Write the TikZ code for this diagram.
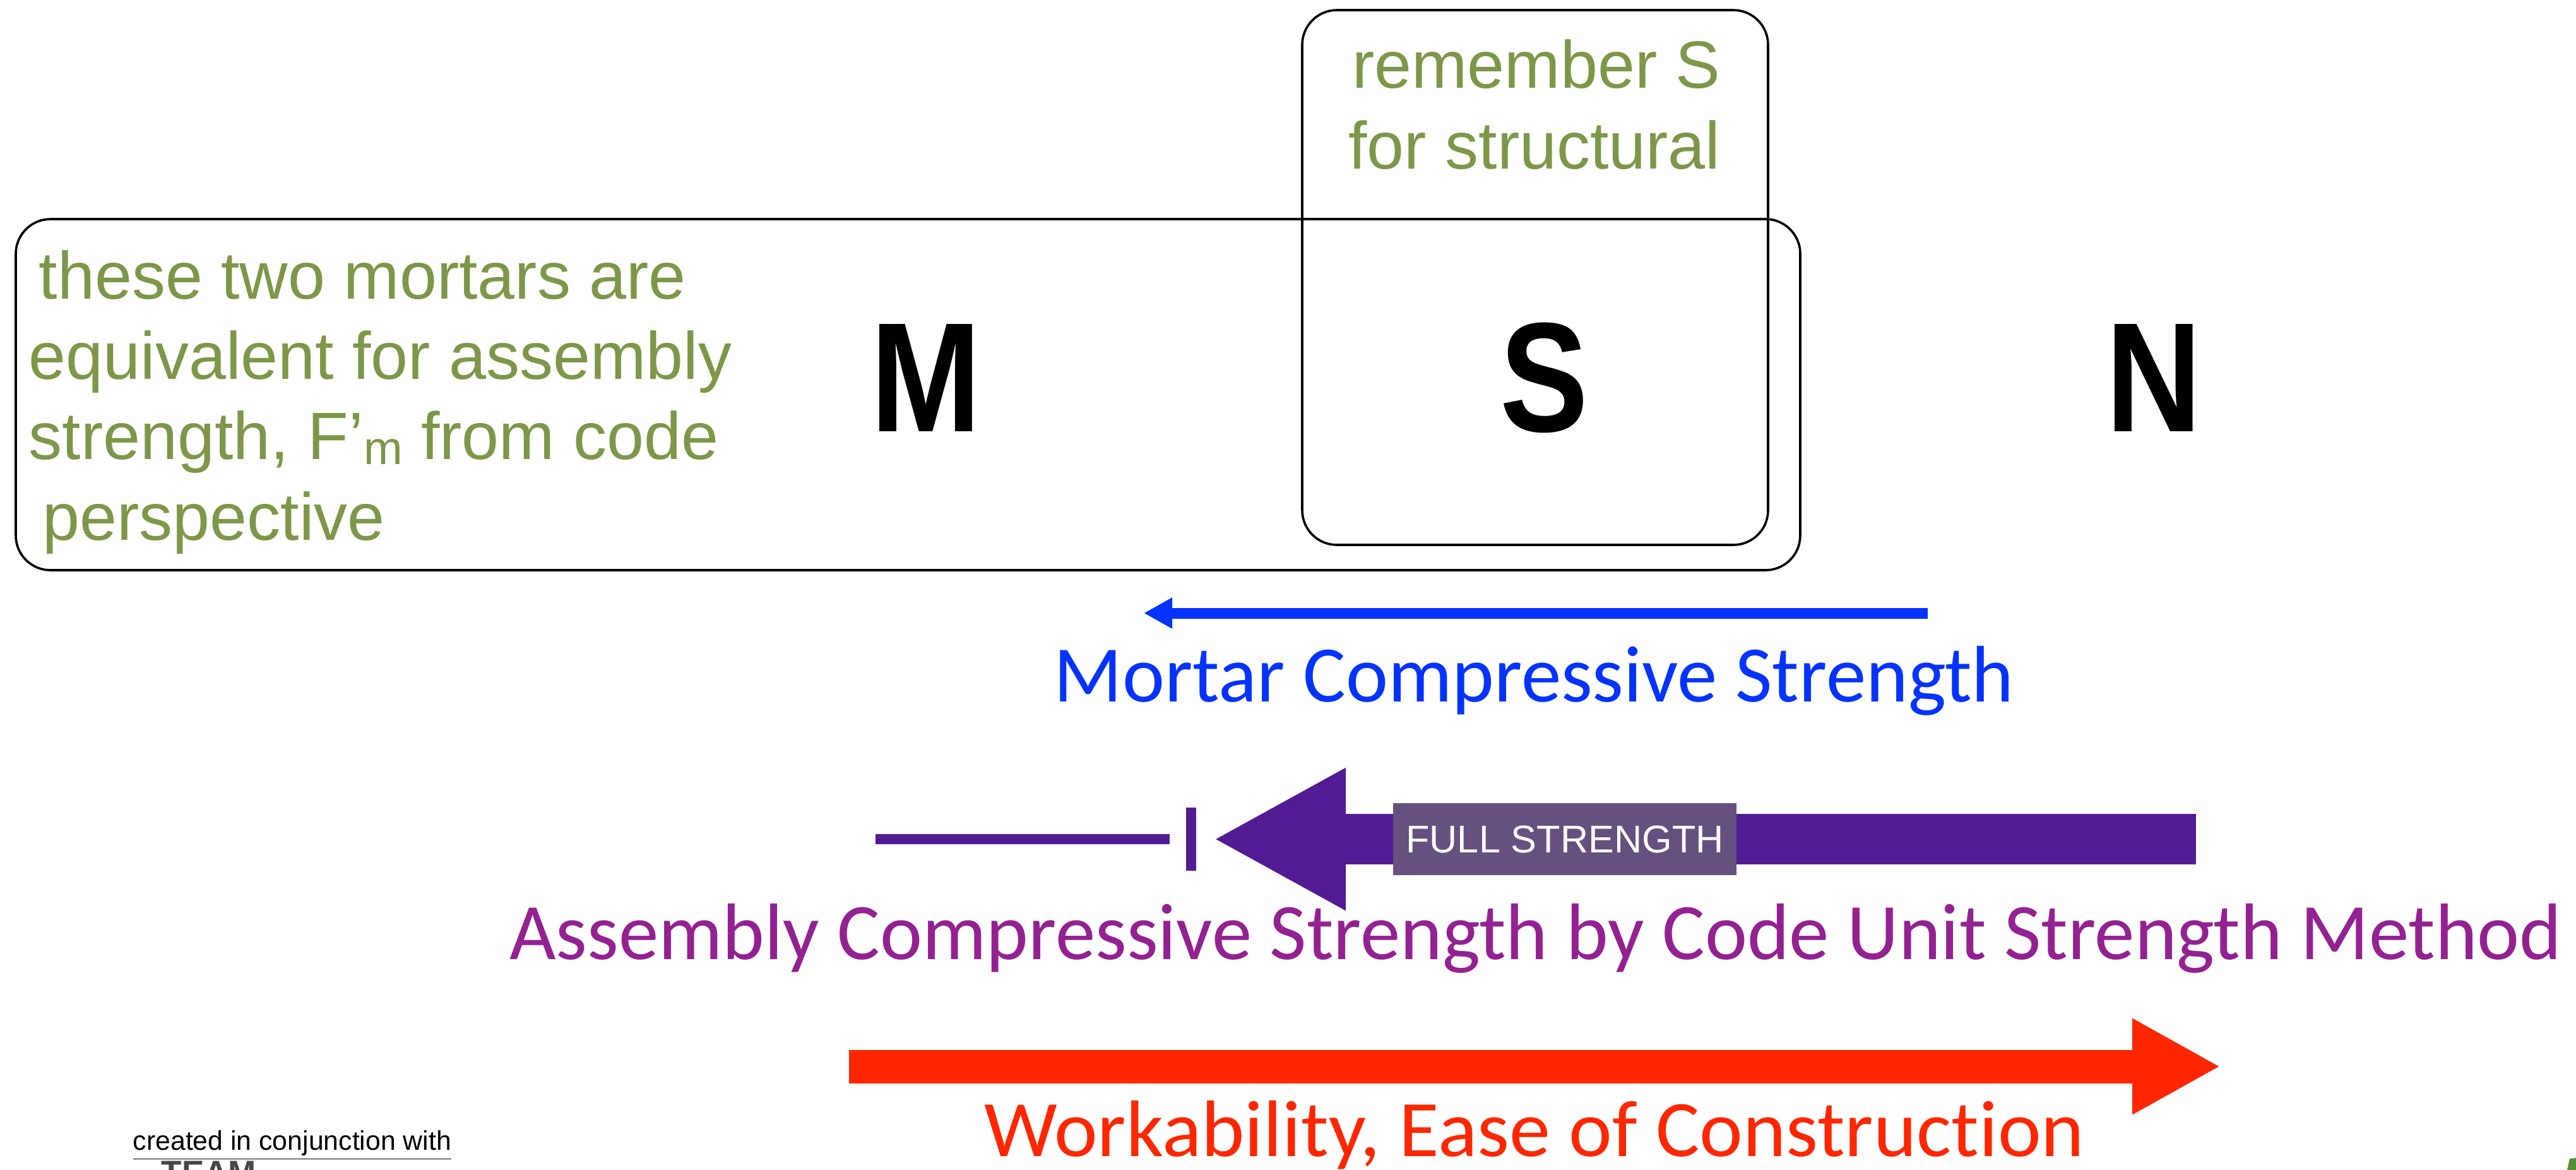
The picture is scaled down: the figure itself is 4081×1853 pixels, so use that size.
\documentclass[tikz,border=0pt]{standalone}
\usepackage{fontspec}
\setmainfont{Liberation Sans}
\newfontfamily\carlito[Ligatures={NoCommon}]{Carlito}
\usetikzlibrary{arrows.meta}
\definecolor{olivegreen}{RGB}{125,151,72}
\definecolor{kblue}{RGB}{4,51,255}
\definecolor{kpurple}{RGB}{83,27,147}
\definecolor{kmagenta}{RGB}{148,33,146}
\definecolor{kred}{RGB}{255,38,0}
\definecolor{labelbox}{RGB}{101,80,128}
\definecolor{logogreen}{RGB}{88,140,55}
\definecolor{teamgray}{RGB}{70,70,70}
\tikzset{
  box/.style={draw=black, line width=0.9pt, rounded corners=13.75pt, inner sep=0pt, outer sep=0pt},
  greentext/.style={text=olivegreen, anchor=base west, inner sep=0pt, font=\fontsize{26.5}{30}\selectfont},
  greencenter/.style={text=olivegreen, anchor=base, inner sep=0pt, font=\fontsize{26.5}{30}\selectfont},
  grade/.style={anchor=base, inner sep=0pt, xscale=0.85, font=\fontsize{61.75}{70}\selectfont\bfseries},
  caption/.style={anchor=base, inner sep=0pt, font=\carlito\fontsize{31.75}{36}\selectfont},
  bluearrow/.style={draw=kblue, line width=4.25pt, -{Triangle[length=11.25pt,width=11.5pt]}},
  purplearrow/.style={draw=kpurple, line width=20pt, -{Triangle[length=52.5pt,width=52.5pt]}},
  purpleline/.style={draw=kpurple, line width=4pt},
  redarrow/.style={draw=kred, line width=13.25pt, -{Triangle[length=35pt,width=35.5pt]}},
}
\begin{document}
\begin{tikzpicture}[x=0.25pt,y=-0.25pt]
\useasboundingbox (0,0) rectangle (4081,1853);
\clip (0,0) rectangle (4081,1853);
\fill[white] (0,0) rectangle (4081,1853);

% boxes
\node[box, minimum width=706.75pt, minimum height=139pt] (big) at (1438.5,625) {};
\node[box, minimum width=184.5pt, minimum height=211.75pt] (small) at (2432,439.5) {};

% green notes
\node[greentext] (g1) at (61,473) {these two mortars are};
\node[greentext] (g2) at (45,600) {equivalent for assembly};
\node[greentext] (g3) at (45,727) {strength, F’\raisebox{-2.2pt}{\fontsize{18.5}{20}\selectfont m} from code};
\node[greentext] (g4) at (67,855) {perspective};
\node[greencenter] (r1) at (2434,139) {remember S};
\node[greencenter] (r2) at (2431,267) {for structural};

% grades
\node[grade] (M) at (1467,683) {M};
\node[grade] (S) at (2446,683) {S};
\node[grade] (N) at (3412,683) {N};

% blue arrow
\coordinate (bR) at (3054,971);
\coordinate (bL) at (1812,971);
\draw[bluearrow] (bR) -- (bL);
\node[caption, text=kblue] (bluetxt) at (2430,1111) {Mortar Compressive Strength};

% purple arrow
\coordinate (pR) at (3479,1329);
\coordinate (pL) at (1922,1329);
\draw[purplearrow] (pR) -- (pL);
\coordinate (lA) at (1387,1329);
\coordinate (lB) at (1853,1329);
\draw[purpleline] (lA) -- (lB);
\coordinate (vT) at (1887,1279);
\coordinate (vB) at (1887,1379);
\draw[purpleline] (vT) -- (vB);
\node[fill=labelbox, text=white, inner sep=0pt, minimum width=136pt, minimum height=28.5pt,
      font=\fontsize{15.3}{17}\selectfont] (full) at (2479,1329) {FULL STRENGTH};
\node[caption, text=kmagenta] (purpletxt) at (2433,1519) {Assembly Compressive Strength by Code Unit Strength Method};

% red arrow
\coordinate (rL) at (1345,1689);
\coordinate (rR) at (3518,1689);
\draw[redarrow] (rL) -- (rR);
\node[caption, text=kred, xscale=1.025] (redtxt) at (2431,1831) {Workability, Ease of Construction};

% footer
\node[anchor=base west, inner sep=0pt, font=\fontsize{10.7}{13}\selectfont] (created) at (210,1821) {\underline{created in conjunction with}};
\node[anchor=base west, inner sep=0pt, text=teamgray, font=\fontsize{13.25}{15}\selectfont\bfseries] (team) at (255,1875) {TEAM};
\fill[logogreen] (4067,1853) -- (4071,1835) -- (4081,1834) -- (4081,1853) -- cycle;
\end{tikzpicture}
\end{document}
